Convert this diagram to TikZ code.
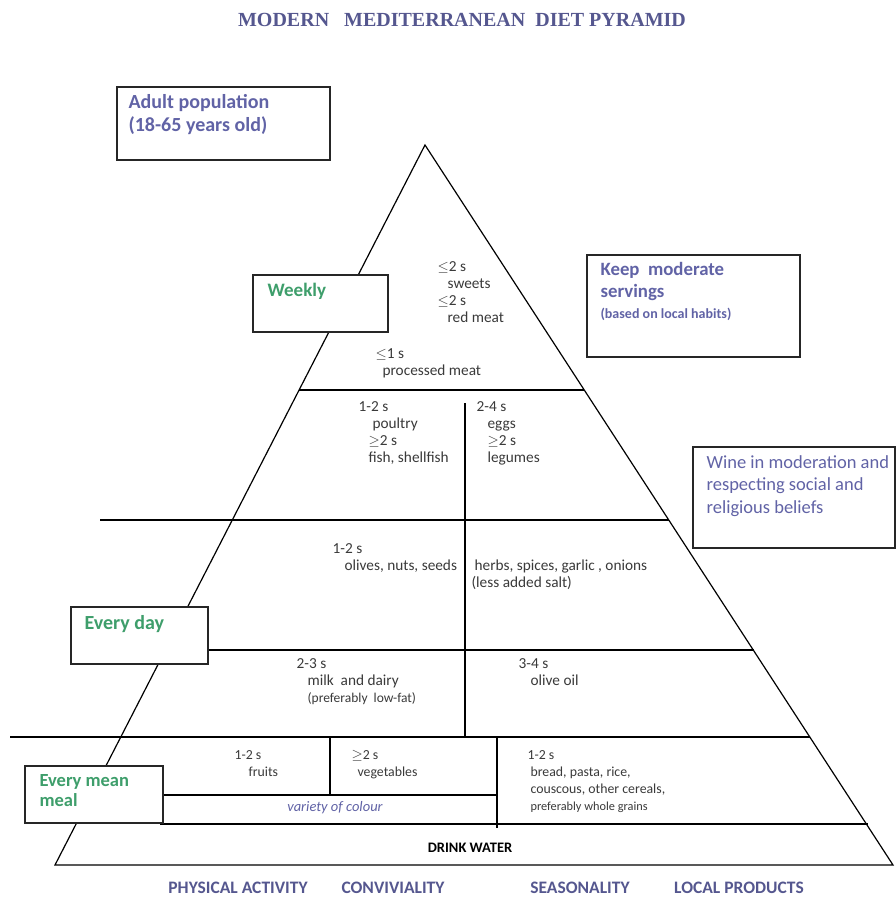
\documentclass[tikz,border=0pt]{standalone}
\usepackage{fontspec}
\setmainfont{Carlito}
\newfontfamily\titlefont{Liberation Serif}
\usetikzlibrary{positioning}
\definecolor{diet-title}{HTML}{55578F}
\definecolor{diet-purple}{HTML}{6163A6}
\definecolor{diet-green}{HTML}{3E9E6B}
\definecolor{diet-text}{HTML}{3A3A3A}

\tikzset{
  frame/.style={draw=black!85, line width=1.3pt, fill=white},
  boxlabel/.style={anchor=north west, align=left, inner sep=0pt, font=\bfseries\fontsize{20}{23}\selectfont},
  food/.style={anchor=north west, align=left, inner sep=0pt, text=diet-text, font=\fontsize{15.3}{17}\selectfont},
  smallfood/.style={food, font=\fontsize{13.8}{17}\selectfont},
  motto/.style={text=diet-title, font=\bfseries\fontsize{17.5}{20}\selectfont}
}

\begin{document}
\begin{tikzpicture}[x=1pt, y=-1pt, line width=1.2pt]
      \fill[white] (0,0) rectangle (896,897);
      \useasboundingbox (0,0) rectangle (896,897);
      \node[font=\titlefont\bfseries\fontsize{20}{24}\selectfont, text=diet-title] (title) at (462,20) {MODERN\ \ \ MEDITERRANEAN\ \ DIET PYRAMID};
      % pyramid outline
      \coordinate (apex) at (425,145);
      \coordinate (baseL) at (55,865);
      \coordinate (baseR) at (893,865);
      \draw (baseL) -- (apex) -- (baseR) -- cycle;
      % floors
      \draw (299,390) -- (584,390);
      \draw (100,520) -- (669,520);
      \draw (165,650) -- (754,650);
      \draw (10,737) -- (810,737);
      \draw (160,824) -- (868,824);
      \draw (160,795) -- (497,795);
      \draw (465,403) -- (465,737);
      \draw (330,737) -- (330,795);
      \draw (497,737) -- (497,828);
      % side boxes
      \node[frame, minimum width=213pt, minimum height=73pt] (adultbox) at (223.5,123.5) {};
      \node[boxlabel, text=diet-purple] (adult) at (128,94) {Adult population\\(18-65 years old)};
      \node[frame, minimum width=135pt, minimum height=57pt] (weekbox) at (320.5,303.5) {};
      \node[boxlabel, text=diet-green, font=\bfseries\fontsize{19}{23}\selectfont] (weekly) at (267,283) {Weekly};
      \node[frame, minimum width=213pt, minimum height=102pt] (keepbox) at (693.5,306) {};
      \node[boxlabel, text=diet-purple, font=\bfseries\fontsize{18.8}{22}\selectfont] (keep) at (600,262) {Keep\ \ moderate\\servings};
      \node[boxlabel, text=diet-purple, font=\bfseries\fontsize{14}{16}\selectfont] (habits) at (600,308) {(based on local habits)};
      \node[frame, minimum width=202pt, minimum height=101pt] (winebox) at (794,497.5) {};
      \node[boxlabel, text=diet-purple, font=\fontsize{18.5}{22.5}\selectfont] (wine) at (706,455) {Wine in moderation and\\respecting social and\\religious beliefs};
      \node[frame, minimum width=137pt, minimum height=57pt] (daybox) at (139.5,635.5) {};
      \node[boxlabel, text=diet-green] (everyday) at (84,615) {Every day};
      \node[frame, minimum width=138pt, minimum height=57pt] (mealbox) at (94,794.5) {};
      \node[boxlabel, text=diet-green, font=\bfseries\fontsize{18.5}{19.5}\selectfont] (everymeal) at (39,774) {Every mean\\meal};
      % servings
      \node[food] (sweets) at (437,261) {$\leq$2 s\\\hspace*{10pt}sweets\\$\leq$2 s\\\hspace*{10pt}red meat};
      \node[food] (procmeat) at (375,348) {$\leq$1 s\\\hspace*{7pt}processed meat};
      \node[food] (poultry) at (358,401) {1-2 s\\\hspace*{14pt}poultry\\\hspace*{10pt}$\geq$2 s\\\hspace*{10pt}fish, shellfish};
      \node[food] (eggs) at (476,401) {2-4 s\\\hspace*{11pt}eggs\\\hspace*{11pt}$\geq$2 s\\\hspace*{11pt}legumes};
      \node[food] (olives) at (332,543) {1-2 s\\\hspace*{12pt}olives, nuts, seeds};
      \node[food] (herbs) at (471,559) {\hspace*{3pt}herbs, spices, garlic , onions\\(less added salt)};
      \node[food] (dairy) at (296,658) {2-3 s\\\hspace*{11pt}milk\ \ and dairy\\\hspace*{11pt}{\fontsize{13.5}{14}\selectfont(preferably\ \ low-fat)}};
      \node[food] (oil) at (518,658) {3-4 s\\\hspace*{12pt}olive oil};
      \node[smallfood] (fruits) at (234,750) {1-2 s\\\hspace*{14pt}fruits};
      \node[smallfood] (veg) at (351,750) {$\geq$2 s\\\hspace*{6pt}vegetables};
      \node[smallfood] (bread) at (527,750) {1-2 s\\\hspace*{3pt}bread, pasta, rice,\\\hspace*{3pt}couscous, other cereals,\\\hspace*{3pt}{\fontsize{12.3}{14}\selectfont preferably whole grains}};
      \node[text=diet-purple, font=\itshape\fontsize{14.5}{15}\selectfont] (colour) at (335,808) {variety of colour};
      \node[font=\bfseries\fontsize{14.5}{16}\selectfont] (water) at (470,848) {DRINK WATER};
      % lifestyle
      \node[motto] (activity) at (238,888) {PHYSICAL ACTIVITY};
      \node[motto] (convivial) at (393,888) {CONVIVIALITY};
      \node[motto] (season) at (580,888) {SEASONALITY};
      \node[motto] (local) at (739,888) {LOCAL PRODUCTS};
    \end{tikzpicture}
\end{document}
